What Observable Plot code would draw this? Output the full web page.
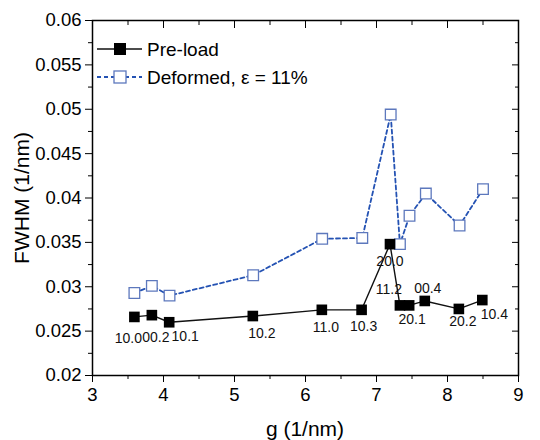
<!DOCTYPE html>
<html>
<head>
<meta charset="utf-8">
<script src="https://cdn.jsdelivr.net/npm/d3@7"></script>
<script src="https://cdn.jsdelivr.net/npm/@observablehq/plot@0.6"></script>
<style>
  html, body { margin: 0; padding: 0; background: #fff; }
  #chart { width: 540px; height: 440px; }
</style>
</head>
<body>
<div id="chart"></div>
<script>
// Data
const gPre = [3.59, 3.836, 4.08, 5.258, 6.23, 6.79, 7.19, 7.33, 7.46, 7.68, 8.16, 8.49];
const fwhmPre = [0.0266, 0.0268, 0.0260, 0.0267, 0.0274, 0.0274, 0.0348, 0.0279, 0.0279, 0.0284, 0.0275, 0.0285];
const reflections = ["10.0", "00.2", "10.1", "10.2", "11.0", "10.3", "20.0", "11.2", "20.1", "00.4", "20.2", "10.4"];
const gDef = [3.59, 3.836, 4.085, 5.263, 6.235, 6.80, 7.20, 7.33, 7.465, 7.695, 8.17, 8.50];
const fwhmDef = [0.0293, 0.0301, 0.0290, 0.0313, 0.0354, 0.0355, 0.0494, 0.0348, 0.0380, 0.0405, 0.0369, 0.0410];
const xTicks = [3, 4, 5, 6, 7, 8, 9];
const xMinor = [3.5, 4.5, 5.5, 6.5, 7.5, 8.5];
const yTicks = [0.02, 0.025, 0.03, 0.035, 0.04, 0.045, 0.05, 0.055, 0.06];
const yMinor = [0.0225, 0.0275, 0.0325, 0.0375, 0.0425, 0.0475, 0.0525, 0.0575];
const seriesNames = ["Pre-load", "Deformed, \u03b5 = 11%"];

const pre = gPre.map((g, i) => ({g, f: fwhmPre[i], label: reflections[i]}));
const def = gDef.map((g, i) => ({g, f: fwhmDef[i]}));

const blueLine = "#2452b3";
const blueMark = "#5d78bd";
const font = "Liberation Sans, Arial, sans-serif";

// label placement offsets (pixels) for each reflection label
const labelOffsets = [[-6,22],[4,22],[16,14],[9,17],[4,18],[2,17],[0,17],[-11,-16],[3,14],[3,-12],[4,13],[12,14]];

const labelMarks = pre.map((d, i) => Plot.text([d], {
  x: "g", y: "f", text: "label",
  dx: labelOffsets[i][0], dy: labelOffsets[i][1],
  fontSize: 14, fill: "#111"
}));

const fmtY = d3.format(".3~f");

const chart = Plot.plot({
  width: 540,
  height: 440,
  marginLeft: 92,
  marginRight: 22,
  marginTop: 20,
  marginBottom: 65,
  style: {fontFamily: font, background: "#fff", color: "#000"},
  x: {domain: [3, 9]},
  y: {domain: [0.02, 0.06]},
  marks: [
    // axes
    Plot.axisX({ticks: xTicks, tickSize: 7, tickPadding: 5, fontSize: 18.5, tickFormat: d => String(d), label: null}),
    Plot.axisX({ticks: xMinor, tickSize: 4, tickFormat: () => "", label: null}),
    Plot.axisX({anchor: "top", ticks: xTicks, tickSize: -7, tickFormat: () => "", label: null}),
    Plot.axisX({anchor: "top", ticks: xMinor, tickSize: -4, tickFormat: () => "", label: null}),
    Plot.axisY({ticks: yTicks, tickSize: 7, tickPadding: 4, fontSize: 18.5, tickFormat: fmtY, label: null}),
    Plot.axisY({ticks: yMinor, tickSize: 4, tickFormat: () => "", label: null}),
    Plot.axisY({anchor: "right", ticks: yTicks, tickSize: -7, tickFormat: () => "", label: null}),
    Plot.axisY({anchor: "right", ticks: yMinor, tickSize: -4, tickFormat: () => "", label: null}),
    Plot.frame({stroke: "#000", strokeWidth: 1.5}),
    // deformed series
    Plot.line(def, {x: "g", y: "f", stroke: blueLine, strokeWidth: 1.8, strokeDasharray: "4,3"}),
    Plot.dot(def, {x: "g", y: "f", symbol: "square", r: 6, fill: "#fff", stroke: blueMark, strokeWidth: 1.3}),
    // pre-load series
    Plot.line(pre, {x: "g", y: "f", stroke: "#111", strokeWidth: 1.4}),
    Plot.dot(pre, {x: "g", y: "f", symbol: "square", r: 6, fill: "#000", stroke: "none"}),
    ...labelMarks
  ]
});

// Axis titles and legend (non-data decorations)
const svg = d3.select(chart);
svg.append("text")
  .attr("x", 305).attr("y", 436)
  .attr("text-anchor", "middle")
  .attr("font-size", 21).attr("font-family", font).attr("fill", "#000")
  .text("g (1/nm)");
svg.append("text")
  .attr("transform", "translate(29,198) rotate(-90)")
  .attr("text-anchor", "middle")
  .attr("font-size", 21).attr("font-family", font).attr("fill", "#000")
  .text("FWHM (1/nm)");

const lg = svg.append("g").attr("text-anchor", "start");
// Pre-load legend entry
lg.append("line").attr("x1", 97).attr("x2", 142).attr("y1", 49).attr("y2", 49)
  .attr("stroke", "#111").attr("stroke-width", 1.4);
lg.append("rect").attr("x", 114).attr("y", 43).attr("width", 12).attr("height", 12).attr("fill", "#000");
lg.append("text").attr("x", 147).attr("y", 49).attr("dy", "0.35em").attr("text-anchor", "start")
  .attr("font-size", 19).attr("font-family", font).attr("fill", "#000").text(seriesNames[0]);
// Deformed legend entry
lg.append("line").attr("x1", 97).attr("x2", 142).attr("y1", 77).attr("y2", 77)
  .attr("stroke", blueLine).attr("stroke-width", 1.8).attr("stroke-dasharray", "4,3");
lg.append("rect").attr("x", 114).attr("y", 71).attr("width", 12).attr("height", 12)
  .attr("fill", "#fff").attr("stroke", blueMark).attr("stroke-width", 1.3);
lg.append("text").attr("x", 147).attr("y", 77).attr("dy", "0.35em").attr("text-anchor", "start")
  .attr("font-size", 19).attr("font-family", font).attr("fill", "#000").text(seriesNames[1]);

document.getElementById("chart").appendChild(chart);
</script>
</body>
</html>
